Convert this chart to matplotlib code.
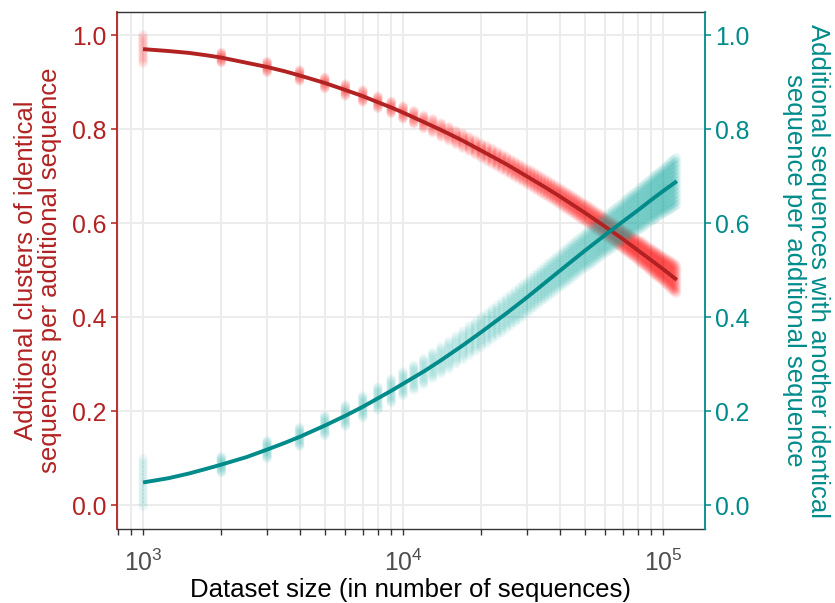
import numpy as np
import matplotlib
matplotlib.use("Agg")
import matplotlib.pyplot as plt
from matplotlib.ticker import FixedLocator, NullFormatter, FixedFormatter
from matplotlib.colors import to_rgba

plt.rcParams['font.family'] = ['Liberation Sans', 'DejaVu Sans']
plt.rcParams['mathtext.fontset'] = 'custom'
plt.rcParams['mathtext.rm'] = 'Liberation Sans'
plt.rcParams['mathtext.it'] = 'Liberation Sans:italic'

# ---------------- data ----------------
dataset_size_thousands = [
    1, 2, 3, 4, 5, 6, 7, 8, 9, 10, 11, 12, 13, 14, 15, 16, 17, 18, 19, 20,
    21, 22, 23, 24, 25, 26, 27, 28, 29, 30, 31, 32, 33, 34, 35, 36, 37, 38, 39, 40,
    41, 42, 43, 44, 45, 46, 47, 48, 49, 50, 51, 52, 53, 54, 55, 56, 57, 58, 59, 60,
    61, 62, 63, 64, 65, 66, 67, 68, 69, 70, 71, 72, 73, 74, 75, 76, 77, 78, 79, 80,
    81, 82, 83, 84, 85, 86, 87, 88, 89, 90, 91, 92, 93, 94, 95, 96, 97, 98, 99, 100,
    101, 102, 103, 104, 105, 106, 107, 108, 109, 110, 111, 112, 113]

# additional clusters of identical sequences per additional sequence (red cloud)
clusters_center = [
    0.970, 0.952, 0.932, 0.914, 0.898, 0.883, 0.870, 0.857, 0.846, 0.835,
    0.825, 0.815, 0.807, 0.798, 0.790, 0.782, 0.775, 0.768, 0.761, 0.754,
    0.748, 0.742, 0.736, 0.730, 0.725, 0.719, 0.714, 0.709, 0.704, 0.699,
    0.695, 0.690, 0.686, 0.681, 0.677, 0.673, 0.669, 0.665, 0.661, 0.657,
    0.653, 0.649, 0.646, 0.642, 0.639, 0.635, 0.632, 0.628, 0.625, 0.622,
    0.619, 0.616, 0.612, 0.609, 0.606, 0.603, 0.600, 0.598, 0.595, 0.592,
    0.589, 0.586, 0.584, 0.581, 0.579, 0.576, 0.573, 0.571, 0.568, 0.566,
    0.563, 0.561, 0.559, 0.556, 0.554, 0.552, 0.549, 0.547, 0.545, 0.542,
    0.540, 0.538, 0.536, 0.534, 0.532, 0.530, 0.527, 0.525, 0.523, 0.521,
    0.519, 0.517, 0.515, 0.513, 0.511, 0.510, 0.508, 0.506, 0.504, 0.502,
    0.500, 0.498, 0.497, 0.495, 0.493, 0.491, 0.489, 0.488, 0.486, 0.484,
    0.483, 0.481, 0.479]
clusters_spread = [
    0.030, 0.011, 0.012, 0.012, 0.012, 0.013, 0.013, 0.013, 0.013, 0.014,
    0.014, 0.014, 0.015, 0.015, 0.015, 0.015, 0.016, 0.016, 0.016, 0.016,
    0.017, 0.017, 0.017, 0.017, 0.017, 0.017, 0.017, 0.017, 0.017, 0.017,
    0.018, 0.018, 0.018, 0.018, 0.018, 0.018, 0.018, 0.018, 0.018, 0.018,
    0.019, 0.019, 0.019, 0.019, 0.019, 0.019, 0.019, 0.019, 0.019, 0.019,
    0.020, 0.020, 0.020, 0.020, 0.020, 0.020, 0.020, 0.020, 0.020, 0.020,
    0.021, 0.021, 0.021, 0.021, 0.021, 0.021, 0.021, 0.021, 0.021, 0.021,
    0.022, 0.022, 0.022, 0.022, 0.022, 0.022, 0.022, 0.022, 0.022, 0.022,
    0.024, 0.024, 0.024, 0.024, 0.024, 0.024, 0.024, 0.024, 0.024, 0.024,
    0.026, 0.026, 0.026, 0.026, 0.026, 0.026, 0.026, 0.026, 0.026, 0.026,
    0.028, 0.028, 0.028, 0.028, 0.028, 0.030, 0.030, 0.030, 0.030, 0.030,
    0.030, 0.030, 0.030]

# additional sequences with another identical sequence per additional sequence (teal cloud)
shared_center = [
    0.048, 0.086, 0.118, 0.145, 0.169, 0.190, 0.209, 0.227, 0.243, 0.258,
    0.271, 0.284, 0.297, 0.308, 0.319, 0.330, 0.340, 0.350, 0.359, 0.368,
    0.376, 0.385, 0.393, 0.400, 0.408, 0.415, 0.422, 0.429, 0.436, 0.442,
    0.449, 0.455, 0.461, 0.467, 0.472, 0.478, 0.483, 0.488, 0.493, 0.498,
    0.503, 0.507, 0.512, 0.516, 0.521, 0.525, 0.529, 0.533, 0.537, 0.541,
    0.544, 0.548, 0.551, 0.555, 0.558, 0.562, 0.565, 0.568, 0.572, 0.575,
    0.578, 0.581, 0.584, 0.587, 0.589, 0.592, 0.595, 0.598, 0.600, 0.603,
    0.606, 0.608, 0.611, 0.613, 0.616, 0.618, 0.621, 0.623, 0.625, 0.627,
    0.630, 0.632, 0.634, 0.636, 0.638, 0.641, 0.643, 0.645, 0.647, 0.649,
    0.651, 0.653, 0.655, 0.657, 0.658, 0.660, 0.662, 0.664, 0.666, 0.668,
    0.669, 0.671, 0.673, 0.674, 0.676, 0.678, 0.680, 0.681, 0.683, 0.684,
    0.686, 0.688, 0.689]
shared_spread = [
    0.050, 0.017, 0.019, 0.020, 0.021, 0.022, 0.023, 0.024, 0.025, 0.025,
    0.026, 0.027, 0.027, 0.028, 0.029, 0.029, 0.030, 0.031, 0.031, 0.032,
    0.032, 0.032, 0.032, 0.033, 0.033, 0.033, 0.033, 0.034, 0.034, 0.034,
    0.034, 0.034, 0.034, 0.034, 0.034, 0.035, 0.035, 0.035, 0.035, 0.035,
    0.036, 0.036, 0.036, 0.036, 0.036, 0.036, 0.036, 0.036, 0.036, 0.036,
    0.038, 0.038, 0.038, 0.038, 0.038, 0.038, 0.038, 0.038, 0.038, 0.038,
    0.040, 0.040, 0.040, 0.040, 0.040, 0.040, 0.040, 0.040, 0.040, 0.040,
    0.042, 0.042, 0.042, 0.042, 0.042, 0.042, 0.042, 0.042, 0.042, 0.042,
    0.044, 0.044, 0.044, 0.044, 0.044, 0.044, 0.044, 0.044, 0.044, 0.044,
    0.046, 0.046, 0.046, 0.046, 0.046, 0.046, 0.046, 0.046, 0.046, 0.046,
    0.048, 0.048, 0.048, 0.048, 0.048, 0.050, 0.050, 0.050, 0.050, 0.050,
    0.050, 0.050, 0.050]

# fitted curves
fit_size_thousands = [1, 1.25, 1.5, 1.75, 2, 2.5, 3, 3.5, 4, 5, 6, 7, 8, 9, 10,
                      12, 14, 17, 20, 25, 30, 35, 40, 50, 60, 70, 80, 90, 100, 113]
fit_clusters = [0.970, 0.966, 0.962, 0.957, 0.952, 0.941, 0.932, 0.923, 0.914, 0.898,
                0.883, 0.870, 0.857, 0.846, 0.835, 0.815, 0.798, 0.775, 0.754, 0.725,
                0.699, 0.677, 0.657, 0.622, 0.592, 0.566, 0.542, 0.521, 0.502, 0.479]
fit_shared = [0.048, 0.057, 0.067, 0.077, 0.086, 0.102, 0.118, 0.132, 0.145, 0.169,
              0.190, 0.209, 0.227, 0.243, 0.258, 0.284, 0.308, 0.340, 0.368, 0.408,
              0.442, 0.472, 0.498, 0.541, 0.575, 0.603, 0.627, 0.649, 0.668, 0.689]

x_major_ticks = [1e3, 1e4, 1e5]
x_major_labels = ["$10^{3}$", "$10^{4}$", "$10^{5}$"]
y_ticks = [0.0, 0.2, 0.4, 0.6, 0.8, 1.0]
y_tick_labels = ["0.0", "0.2", "0.4", "0.6", "0.8", "1.0"]

left_title = "Additional clusters of identical\nsequences per additional sequence"
right_title = "Additional sequences with another identical\nsequence per additional sequence"
x_title = "Dataset size (in number of sequences)"

# ---------------- style ----------------
RED_LINE = "#B22222"
TEAL_LINE = "#008B8B"
RED_PT = "#FF1A1A"
TEAL_PT = "#1AB0A8"
GRID = "#EBEBEB"
REPLICATE_OFFSETS = [-1.0, -0.83, -0.67, -0.5, -0.33, -0.17, 0.0,
                     0.17, 0.33, 0.5, 0.67, 0.83, 1.0]
MARKER_S = 46
TICK_FS = 17.8
TITLE_FS = 18.5

W, H = 835, 603
sizes = np.array(dataset_size_thousands, dtype=float) * 1000.0
fit_sizes = np.array(fit_size_thousands, dtype=float) * 1000.0

fig = plt.figure(figsize=(W / 100, H / 100), dpi=100)
L, R, T, B = 117, 705, 12, 529
ax = fig.add_axes([L / W, 1 - B / H, (R - L) / W, (B - T) / H])
ax.set_xscale("log")
XMIN, XMAX = 794, 145000
ax.set_xlim(XMIN, XMAX)
ax.set_ylim(-0.051, 1.049)

# per-point alpha: lower where neighbouring clusters overlap horizontally
log_sizes = np.log10(sizes)
px_per_decade = (R - L) / (np.log10(XMAX) - np.log10(XMIN))
gap_px = np.diff(np.append(log_sizes, 2 * log_sizes[-1] - log_sizes[-2])) * px_per_decade
dens = np.clip(gap_px / 9.0, 0, 1)


def cloud(center, spread, color, base_alpha, expo):
    c = np.array(center)
    s = np.array(spread)
    rgba = np.array([to_rgba(color)] * len(c))
    rgba[:, 3] = base_alpha * dens ** expo
    for off in REPLICATE_OFFSETS:
        ax.scatter(sizes, c + off * s, s=MARKER_S, c=rgba, linewidths=0, zorder=2)


cloud(clusters_center, clusters_spread, RED_PT, 0.09, 0.33)
cloud(shared_center, shared_spread, TEAL_PT, 0.09, 0.25)
ax.plot(fit_sizes, fit_clusters, color=RED_LINE, lw=2.8, zorder=4, solid_capstyle="butt")
ax.plot(fit_sizes, fit_shared, color=TEAL_LINE, lw=2.8, zorder=5, solid_capstyle="butt")

# ticks and grid
ax.xaxis.set_major_locator(FixedLocator(x_major_ticks))
ax.xaxis.set_major_formatter(FixedFormatter(x_major_labels))
minor = [m * 10 ** e for e in (2, 3, 4, 5) for m in range(2, 10)]
ax.xaxis.set_minor_locator(FixedLocator(minor))
ax.xaxis.set_minor_formatter(NullFormatter())
ax.set_yticks(y_ticks)
ax.set_yticklabels(y_tick_labels)
ax.grid(which="both", axis="x", color=GRID, lw=1.3, zorder=0)
ax.grid(which="major", axis="y", color=GRID, lw=1.3, zorder=0)
ax.set_axisbelow(True)

ax.tick_params(axis="x", which="both", length=4.5, width=1.0, color="#333333",
               labelcolor="#4D4D4D", labelsize=TICK_FS, pad=10)
ax.tick_params(axis="y", which="major", length=4.5, width=1.1, color=RED_LINE,
               labelcolor=RED_LINE, labelsize=TICK_FS, pad=3)
for side in ("top", "bottom"):
    ax.spines[side].set_color("#333333")
    ax.spines[side].set_linewidth(1.0)
ax.spines["left"].set_color(RED_LINE)
ax.spines["left"].set_linewidth(1.3)
ax.spines["right"].set_visible(False)

ax2 = ax.twinx()
ax2.set_ylim(ax.get_ylim())
ax2.set_yticks(y_ticks)
ax2.set_yticklabels(y_tick_labels)
ax2.tick_params(axis="y", length=4.5, width=1.1, color=TEAL_LINE,
                labelcolor=TEAL_LINE, labelsize=TICK_FS, pad=3)
for side in ("top", "bottom", "left"):
    ax2.spines[side].set_visible(False)
ax2.spines["right"].set_color(TEAL_LINE)
ax2.spines["right"].set_linewidth(1.3)

# titles
ycen = 1 - ((T + B) / 2) / H
fig.text(38 / W, ycen, left_title, rotation=90, ha="center", va="center",
         multialignment="center", fontsize=TITLE_FS, color=RED_LINE, linespacing=1.0)
fig.text(806 / W, ycen, right_title, rotation=-90, ha="center", va="center",
         multialignment="center", fontsize=TITLE_FS, color=TEAL_LINE, linespacing=1.0)
fig.text(((L + R) / 2) / W, 1 - 597 / H, x_title, ha="center", va="baseline",
         fontsize=TITLE_FS, color="black")

fig.savefig("out.png", dpi=100)
